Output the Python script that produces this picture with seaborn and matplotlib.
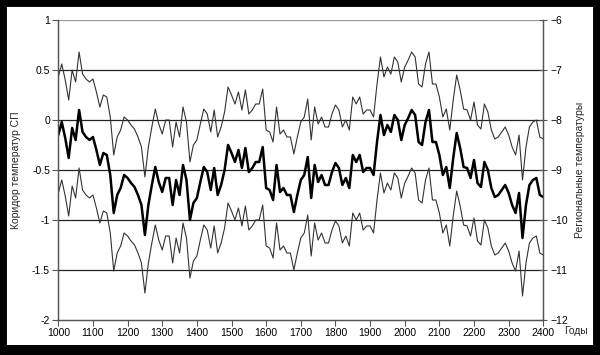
import matplotlib
matplotlib.use("Agg")
import matplotlib.pyplot as plt
import seaborn as sns
import numpy as np
from matplotlib.patches import Rectangle

### Data (10-year steps)
years = list(range(1000, 2401, 10))

# regional temperatures (right axis)
regional = [
    -8.30, -8.04, -8.36, -8.76, -8.16, -8.40, -7.80, -8.24, -8.34, -8.40,
    -8.34, -8.60, -8.90, -8.66, -8.70, -9.10, -9.86, -9.50, -9.36, -9.10,
    -9.16, -9.26, -9.34, -9.50, -9.70, -10.30, -9.70, -9.30, -8.94, -9.24,
    -9.44, -9.16, -9.16, -9.70, -9.20, -9.50, -8.90, -9.20, -10.00, -9.66,
    -9.56, -9.24, -8.94, -9.04, -9.40, -8.96, -9.50, -9.30, -9.00, -8.50,
    -8.66, -8.84, -8.60, -8.96, -8.56, -9.04, -8.96, -8.84, -8.84, -8.54,
    -9.36, -9.40, -9.60, -8.90, -9.44, -9.36, -9.50, -9.50, -9.84, -9.50,
    -9.20, -9.10, -8.74, -9.56, -8.90, -9.24, -9.10, -9.30, -9.30, -9.04,
    -8.86, -8.96, -9.30, -9.16, -9.36, -8.70, -8.84, -8.70, -9.04, -8.96,
    -8.96, -9.10, -8.44, -7.90, -8.30, -8.10, -8.24, -7.90, -8.00, -8.40,
    -8.10, -7.96, -7.80, -7.90, -8.44, -8.50, -8.04, -7.80, -8.44, -8.44,
    -8.70, -9.10, -8.94, -9.36, -8.76, -8.26, -8.56, -8.94, -8.96, -9.16,
    -8.80, -9.26, -9.34, -8.84, -9.00, -9.36, -9.54, -9.50, -9.40, -9.30,
    -9.46, -9.70, -9.86, -9.46, -10.36, -9.70, -9.30, -9.20, -9.16, -9.50,
    -9.54,
]

# corridor of NH temperatures (left axis), upper and lower bounds
corridor_upper = [
    0.43, 0.56, 0.40, 0.20, 0.50, 0.38, 0.68, 0.46, 0.41, 0.38,
    0.41, 0.28, 0.13, 0.25, 0.23, 0.03, -0.35, -0.17, -0.10, 0.03,
    0.00, -0.05, -0.09, -0.17, -0.27, -0.57, -0.27, -0.07, 0.11, -0.04,
    -0.14, 0.00, 0.00, -0.27, -0.02, -0.17, 0.13, -0.02, -0.42, -0.25,
    -0.20, -0.04, 0.11, 0.06, -0.12, 0.10, -0.17, -0.07, 0.08, 0.33,
    0.25, 0.16, 0.28, 0.10, 0.30, 0.06, 0.10, 0.16, 0.16, 0.31,
    -0.10, -0.12, -0.22, 0.13, -0.14, -0.10, -0.17, -0.17, -0.34, -0.17,
    -0.02, 0.03, 0.21, -0.20, 0.13, -0.04, 0.03, -0.07, -0.07, 0.06,
    0.15, 0.10, -0.07, 0.00, -0.10, 0.23, 0.16, 0.23, 0.06, 0.10,
    0.10, 0.03, 0.36, 0.63, 0.43, 0.53, 0.46, 0.63, 0.58, 0.38,
    0.53, 0.60, 0.68, 0.63, 0.36, 0.33, 0.56, 0.68, 0.36, 0.36,
    0.23, 0.03, 0.11, -0.10, 0.20, 0.45, 0.30, 0.11, 0.10, 0.00,
    0.18, -0.05, -0.09, 0.16, 0.08, -0.10, -0.19, -0.17, -0.12, -0.07,
    -0.15, -0.27, -0.35, -0.15, -0.60, -0.27, -0.07, -0.02, 0.00, -0.17,
    -0.19,
]
corridor_lower = [
    -0.73, -0.60, -0.76, -0.96, -0.66, -0.78, -0.48, -0.70, -0.75, -0.78,
    -0.75, -0.88, -1.03, -0.91, -0.93, -1.13, -1.51, -1.33, -1.26, -1.13,
    -1.16, -1.21, -1.25, -1.33, -1.43, -1.73, -1.43, -1.23, -1.05, -1.20,
    -1.30, -1.16, -1.16, -1.43, -1.18, -1.33, -1.03, -1.18, -1.58, -1.41,
    -1.36, -1.20, -1.05, -1.10, -1.28, -1.06, -1.33, -1.23, -1.08, -0.83,
    -0.91, -1.00, -0.88, -1.06, -0.86, -1.10, -1.06, -1.00, -1.00, -0.85,
    -1.26, -1.28, -1.38, -1.03, -1.30, -1.26, -1.33, -1.33, -1.50, -1.33,
    -1.18, -1.13, -0.95, -1.36, -1.03, -1.20, -1.13, -1.23, -1.23, -1.10,
    -1.01, -1.06, -1.23, -1.16, -1.26, -0.93, -1.00, -0.93, -1.10, -1.06,
    -1.06, -1.13, -0.80, -0.53, -0.73, -0.63, -0.70, -0.53, -0.58, -0.78,
    -0.63, -0.56, -0.48, -0.53, -0.80, -0.83, -0.60, -0.48, -0.80, -0.80,
    -0.93, -1.13, -1.05, -1.26, -0.96, -0.71, -0.86, -1.05, -1.06, -1.16,
    -0.98, -1.21, -1.25, -1.00, -1.08, -1.26, -1.35, -1.33, -1.28, -1.23,
    -1.31, -1.43, -1.51, -1.31, -1.76, -1.43, -1.23, -1.18, -1.16, -1.33,
    -1.35,
]

left_ticks = [-2, -1.5, -1, -0.5, 0, 0.5, 1]
left_labels = ["-2", "-1.5", "-1", "-0.5", "0", "0.5", "1"]
right_ticks = [-12, -11, -10, -9, -8, -7, -6]
x_ticks = list(range(1000, 2401, 100))

### Style
sns.set_style("white")
plt.rcParams["font.family"] = ["Liberation Sans", "DejaVu Sans"]

fig = plt.figure(figsize=(6, 3.55), dpi=100)
ax = fig.add_axes([58.3 / 600, 1 - 320 / 355, 485 / 600, 300 / 355])
ax2 = ax.twinx()

# black frame around the whole picture (thicker at the bottom)
fig.patches.append(Rectangle((0, 0), 1, 1, transform=fig.transFigure,
                             fill=False, edgecolor="black", linewidth=10, zorder=10))
fig.patches.append(Rectangle((0, 0), 1, 10 / 355, transform=fig.transFigure,
                             facecolor="black", edgecolor="none", zorder=10))

# horizontal grid lines
for t in [1, 0.5, 0, -0.5, -1, -1.5]:
    ax.axhline(t, color="#222222" if t != 1 else "#999999", linewidth=0.9, zorder=1)

sns.lineplot(x=years, y=corridor_upper, ax=ax, color="#333333", linewidth=0.8)
sns.lineplot(x=years, y=corridor_lower, ax=ax, color="#333333", linewidth=0.8)
sns.lineplot(x=years, y=regional, ax=ax2, color="black", linewidth=1.8)

ax.set_xlim(1000, 2400)
ax.set_ylim(-2, 1)
ax2.set_ylim(-12, -6)

ax.set_yticks(left_ticks)
ax.set_yticklabels(left_labels)
ax2.set_yticks(right_ticks)
ax.set_xticks(x_ticks)

for a in (ax, ax2):
    for s in a.spines.values():
        s.set_color("#555555")
        s.set_linewidth(0.9)
    a.spines["top"].set_visible(False)

ax.tick_params(axis="both", direction="out", length=4, width=0.8, labelsize=7.5,
               colors="#555555", labelcolor="black", pad=2, left=True, bottom=True)
ax2.tick_params(axis="y", direction="inout", length=6, width=0.8, labelsize=7.5,
                colors="#555555", labelcolor="black", pad=2, right=True)

ax.set_ylabel("Коридор температур СП", fontsize=7.5, labelpad=8)
ax2.set_ylabel("Региональные температуры", fontsize=7.5, labelpad=5)
fig.text(564 / 600, 1 - 331 / 355, "Годы", fontsize=7.5, ha="left", va="center")

fig.savefig("out.png", dpi=100, facecolor="white")
